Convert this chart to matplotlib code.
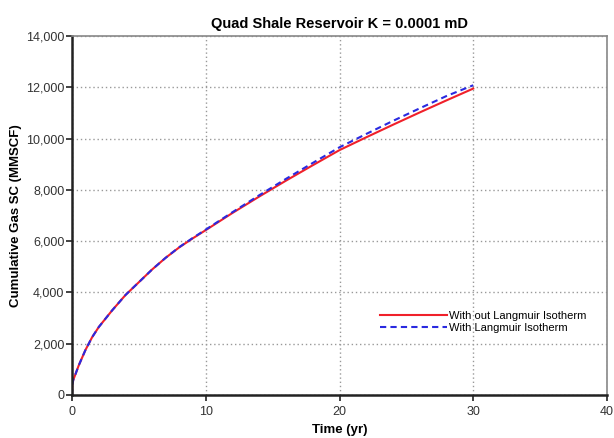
import matplotlib.pyplot as plt
from matplotlib.ticker import FuncFormatter

plt.rcParams['font.family'] = ['Liberation Sans', 'DejaVu Sans']

# time (yr)
time_yr = [0, 0.02, 0.1, 0.25, 0.5, 0.75, 1, 1.5, 2, 3, 4, 5, 6, 7, 8, 9, 10,
           12, 14, 16, 18, 20, 22, 24, 26, 28, 30]

# cumulative gas (MMSCF)
gas_no_langmuir = [0, 400, 600, 800, 1150, 1450, 1750, 2250, 2650, 3300, 3900, 4400,
                   4900, 5350, 5750, 6100, 6430, 7100, 7740, 8360, 8960, 9550,
                   10050, 10540, 11020, 11490, 11950]
gas_langmuir = [0, 400, 600, 800, 1150, 1450, 1750, 2250, 2650, 3300, 3900, 4400,
                4900, 5350, 5760, 6115, 6450, 7130, 7790, 8430, 9050, 9660,
                10180, 10690, 11180, 11660, 12080]

fig = plt.figure(figsize=(6.14, 4.38), dpi=100)
ax = fig.add_axes([0.1173, 0.0982, 0.8713, 0.8196])

ax.plot(time_yr, gas_no_langmuir, color='#f0202a', lw=1.5, label='With out Langmuir Isotherm')
ax.plot(time_yr, gas_langmuir, color='#2a2ae0', lw=1.5, ls=(0, (3, 2)), label='With Langmuir Isotherm')

ax.set_xlim(0, 40)
ax.set_ylim(0, 14000)
ax.set_xticks([0, 10, 20, 30, 40])
ax.set_yticks(range(0, 14001, 2000))
ax.yaxis.set_major_formatter(FuncFormatter(lambda v, p: f'{int(v):,}'))
ax.grid(True, color='#999999', linestyle=(0, (1, 2)), linewidth=1.0)

for s in ['left', 'bottom']:
    ax.spines[s].set_linewidth(1.8)
    ax.spines[s].set_color('#222222')
for s in ['top', 'right']:
    ax.spines[s].set_linewidth(1.2)
    ax.spines[s].set_color('#888888')

ax.tick_params(axis='both', labelsize=9, colors='#222222', labelcolor='#333333',
               length=4, width=1.2, pad=1.5)
ax.tick_params(axis='x', pad=4)

ax.set_title('Quad Shale Reservoir K = 0.0001 mD', fontsize=10.5, fontweight='bold', pad=6)
ax.set_xlabel('Time (yr)', fontsize=9.5, fontweight='bold', labelpad=4)
ax.set_ylabel('Cumulative Gas SC (MMSCF)', fontsize=9.5, fontweight='bold', labelpad=3)

fig.legend(loc='upper left', bbox_to_anchor=(380 / 614, 1 - 311 / 438), frameon=False,
           fontsize=8, handlelength=6.0, handletextpad=0.2, labelspacing=0.2,
           borderpad=0, borderaxespad=0)

fig.savefig('out.png', dpi=100)
